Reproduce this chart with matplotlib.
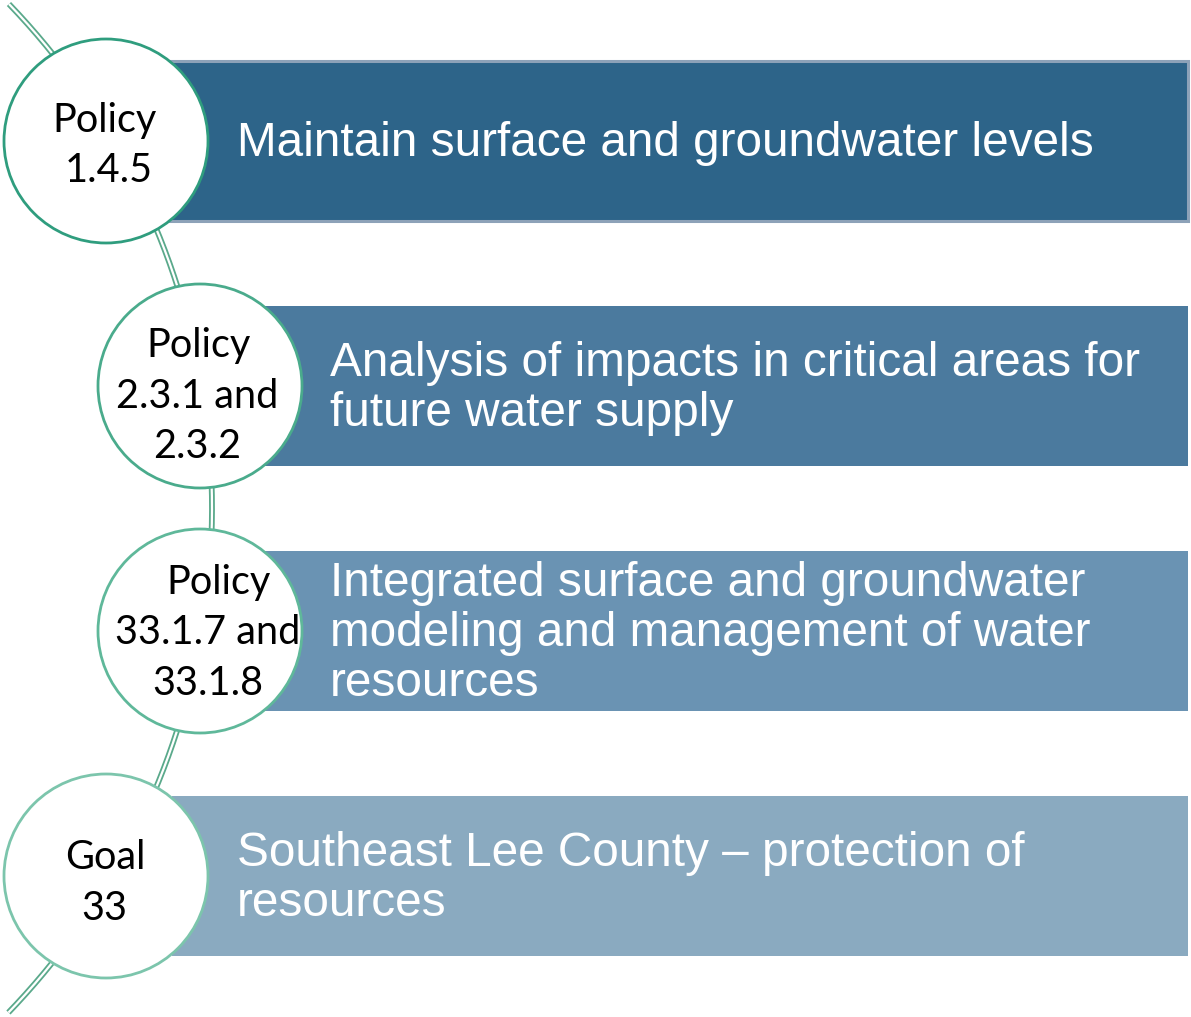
import matplotlib.pyplot as plt
import numpy as np
from matplotlib.patches import Circle, Rectangle

W, H = 1191, 1017

CIRCLE_LABELS = [
    ["Policy", "1.4.5"],
    ["Policy", "2.3.1 and", "2.3.2"],
    ["Policy", "33.1.7 and", "33.1.8"],
    ["Goal", "33"],
]
BAR_LABELS = [
    ["Maintain surface and groundwater levels"],
    ["Analysis of impacts in critical areas for", "future water supply"],
    ["Integrated surface and groundwater", "modeling and management of water", "resources"],
    ["Southeast Lee County \u2013 protection of", "resources"],
]
BAR_COLORS = ["#2d6489", "#4b7a9e", "#6a93b3", "#8aaac0"]
RING_COLORS = ["#2f9d7e", "#4aab8c", "#5fb89a", "#7cc5ac"]

# layout (pixel units)
CIRCLE_X = [106, 200, 200, 106]
ROW_Y = [141, 386, 631, 876]
RADIUS = 102
BAR_LEFT = [165, 262, 262, 172]
BAR_RIGHT = 1188
BAR_HALF = 80
TEXT_X = [237, 330, 330, 237]
LINE_STEP = 50
CIRCLE_DY = [4.5, 10, 2, 7]
# where each circle line is centred horizontally
LINE_CX = [[104.5, 108.5], [198, 197, 197.5], [218, 208, 208], [105, 104.5]]


def main() -> None:
    fig = plt.figure(figsize=(W / 100, H / 100), dpi=100)
    ax = fig.add_axes([0, 0, 1, 1])
    ax.set_xlim(0, W)
    ax.set_ylim(H, 0)
    ax.axis("off")

    # big background arc drawn as a double line
    cx, cy, r = -515.0, 508.0, 727.0
    a0 = np.arctan2(3 - cy, 10 - cx)
    a1 = np.arctan2(1014 - cy, 10 - cx)
    t = np.linspace(a0, a1, 400)
    ax.plot(cx + r * np.cos(t), cy + r * np.sin(t), color="#5aa98b", lw=4.2, zorder=1,
            solid_capstyle="butt")
    ax.plot(cx + r * np.cos(t), cy + r * np.sin(t), color="white", lw=1.6, zorder=1.1,
            solid_capstyle="butt")

    for i, (y, lines) in enumerate(zip(ROW_Y, BAR_LABELS)):
        bar = Rectangle((BAR_LEFT[i], y - BAR_HALF), BAR_RIGHT - BAR_LEFT[i], 2 * BAR_HALF,
                        facecolor=BAR_COLORS[i],
                        edgecolor="#8da2b8" if i == 0 else BAR_COLORS[i],
                        lw=2.2 if i == 0 else 0, zorder=2)
        ax.add_patch(bar)
        y0 = y + 2 - (len(lines) - 1) * LINE_STEP / 2
        for k, line in enumerate(lines):
            ax.text(TEXT_X[i], y0 + k * LINE_STEP, line, color="white", fontsize=34.4,
                    family="Liberation Sans", ha="left", va="center", zorder=4)

    for i, (x, y, lines) in enumerate(zip(CIRCLE_X, ROW_Y, CIRCLE_LABELS)):
        ax.add_patch(Circle((x, y), RADIUS, facecolor="white", edgecolor=RING_COLORS[i],
                            lw=2.0, zorder=3))
        y0 = y + CIRCLE_DY[i] - (len(lines) - 1) * 50.5 / 2
        for k, line in enumerate(lines):
            ax.text(LINE_CX[i][k], y0 + k * 50.5, line, color="black",
                    fontsize=28.5, family="Lato", ha="center", va="center", zorder=4)

    fig.savefig("out.png", dpi=100)
    plt.close(fig)


if __name__ == "__main__":
    main()
